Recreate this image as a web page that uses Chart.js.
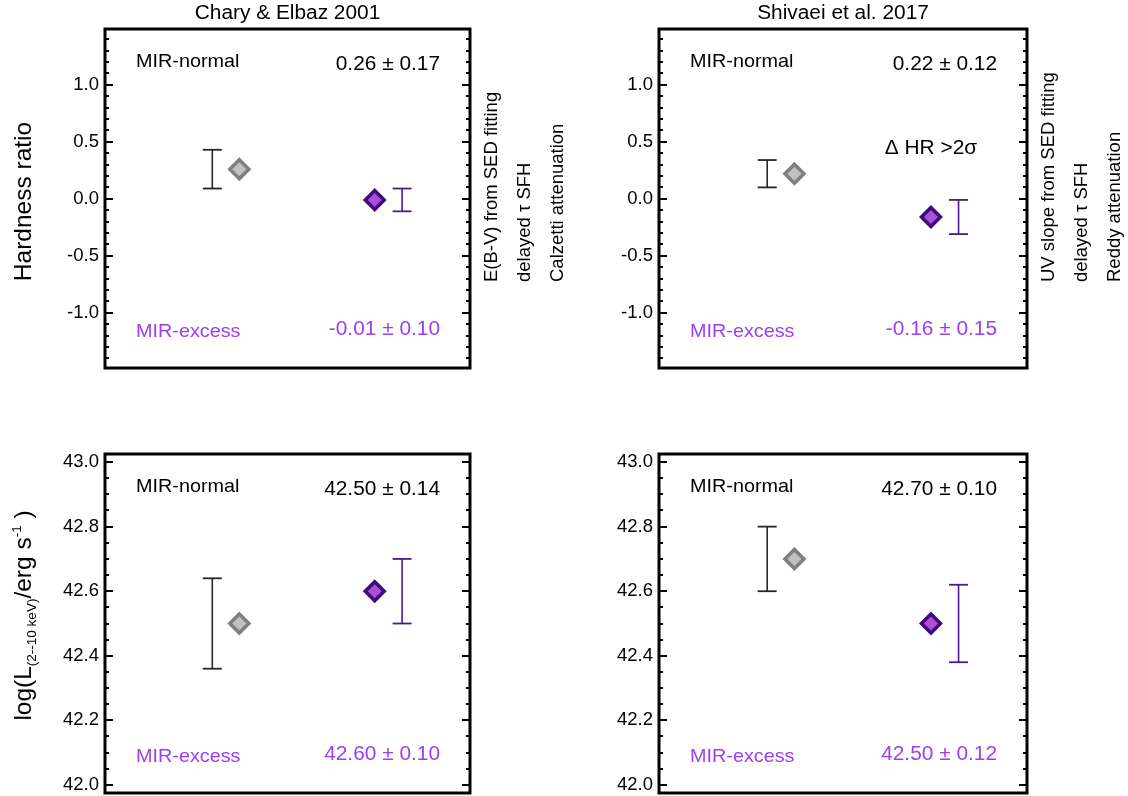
<!DOCTYPE html>
<html>
<head>
<meta charset="utf-8">
<script src="https://cdn.jsdelivr.net/npm/chart.js@4.4.1/dist/chart.umd.min.js"></script>
<style>
body { margin: 0; background: #fff; overflow: hidden; }
#wrap { position: relative; width: 1128px; height: 796px; overflow: hidden; }
#wrap canvas { position: absolute; }
</style>
</head>
<body>
<div id="wrap">
<canvas id="hr1" width="564" height="400" style="left:0;top:0"></canvas>
<canvas id="hr2" width="564" height="400" style="left:564px;top:0"></canvas>
<canvas id="lx1" width="564" height="406" style="left:0;top:400px"></canvas>
<canvas id="lx2" width="564" height="406" style="left:564px;top:400px"></canvas>
</div>
<script>
// values
const studies = ['Chary & Elbaz 2001', 'Shivaei et al. 2017'];
const sedNotes = [
    ['E(B-V) from SED fitting', 'delayed τ SFH', 'Calzetti attenuation'],
    ['UV slope from SED fitting', 'delayed τ SFH', 'Reddy attenuation'],
];
const groups = ['MIR-normal', 'MIR-excess'];
const sigmaNote = ['', 'Δ HR >2σ'];
const hrTitle = 'Hardness ratio';
const lxTitle = ['log(L', '(2--10 keV)', '/erg s', '-1', ' )'];

const markX = [0.368, 0.739];   // diamonds: normal, excess
const barX = [0.294, 0.814];    // error bars: normal, excess

const hrNormal = [0.26, 0.22];
const hrNormalErr = [0.17, 0.12];
const hrExcess = [-0.01, -0.16];
const hrExcessErr = [0.10, 0.15];

const lxNormal = [42.50, 42.70];
const lxNormalErr = [0.14, 0.10];
const lxExcess = [42.60, 42.50];
const lxExcessErr = [0.10, 0.12];

const hrTicks = [-1.0, -0.5, 0.0, 0.5, 1.0];
const lxTicks = [42.0, 42.2, 42.4, 42.6, 42.8, 43.0];

const FONT = '"Liberation Sans", Arial, Helvetica, sans-serif';
const SX = 1.07; // picture is stretched a little sideways, text too
const normalBar = '#262626';
const excessBar = '#4b1a8c';
const excessText = '#9b3ff0';

Chart.defaults.font.family = FONT;
Chart.defaults.color = '#000';

const panelInfo = {};

function putText(ctx, s, x, y, size, color, align) {
    ctx.save();
    ctx.font = size + 'px ' + FONT;
    ctx.fillStyle = color;
    ctx.textAlign = align;
    ctx.textBaseline = 'middle';
    ctx.translate(x, y);
    ctx.scale(SX, 1);
    ctx.fillText(s, 0, 0);
    ctx.restore();
}

function drawLxTitle(ctx, x, cy) {
    const sizes = [24.5, 13.5, 24.5, 13.5, 24.5];
    const shift = [0, 5, 0, -10, 0];
    ctx.save();
    ctx.translate(x, cy);
    ctx.rotate(-Math.PI / 2);
    ctx.fillStyle = '#000';
    ctx.textBaseline = 'alphabetic';
    ctx.textAlign = 'left';
    let total = 0;
    const widths = lxTitle.map((t, i) => {
        ctx.font = sizes[i] + 'px ' + FONT;
        const w = ctx.measureText(t).width;
        total += w;
        return w;
    });
    let cx = -total / 2;
    lxTitle.forEach((t, i) => {
        ctx.font = sizes[i] + 'px ' + FONT;
        ctx.fillText(t, cx, shift[i]);
        cx += widths[i];
    });
    ctx.restore();
}

const decor = {
    id: 'decor',
    afterDraw(chart) {
        const p = panelInfo[chart.canvas.id];
        const ctx = chart.ctx;
        const a = chart.chartArea;
        const y = chart.scales.y;
        const x = chart.scales.x;
        ctx.save();

        // inward ticks on both sides
        ctx.strokeStyle = '#000';
        ctx.lineWidth = 2;
        const k0 = Math.ceil(y.min / p.minor - 1e-6);
        const k1 = Math.floor(y.max / p.minor + 1e-6);
        for (let k = k0; k <= k1; k++) {
            const v = k * p.minor;
            const major = p.ticks.some(t => Math.abs(t - v) < 1e-6);
            const len = major ? 8 : 4;
            const py = Math.round(y.getPixelForValue(v));
            ctx.beginPath();
            ctx.moveTo(a.left, py);
            ctx.lineTo(a.left + len, py);
            ctx.moveTo(a.right, py);
            ctx.lineTo(a.right - len, py);
            ctx.stroke();
        }

        // frame
        ctx.lineWidth = 3;
        ctx.strokeRect(a.left, a.top, a.right - a.left, a.bottom - a.top);

        // labels inside the panel
        putText(ctx, groups[0], a.left + 31, a.top + 33, 18.5, '#000', 'left');
        putText(ctx, p.values[0], a.right - 30, a.top + 36, 19.5, '#000', 'right');
        putText(ctx, groups[1], a.left + 31, a.bottom - 36, 18.5, excessText, 'left');
        putText(ctx, p.values[1], a.right - 30, a.bottom - 38, 19.5, excessText, 'right');
        if (p.flag) {
            putText(ctx, p.flag, x.getPixelForValue(markX[1]), y.getPixelForValue(0.44), 19.5, '#000', 'center');
        }

        if (p.title) {
            putText(ctx, p.title, (a.left + a.right) / 2, 14, 19.5, '#000', 'center');
        }

        // method notes on the right, rotated
        if (p.notes) {
            const off = [21.5, 54.5, 88];
            ctx.fillStyle = '#000';
            ctx.font = '18.5px ' + FONT;
            ctx.textAlign = 'left';
            ctx.textBaseline = 'middle';
            p.notes.forEach((s, i) => {
                ctx.save();
                ctx.translate(a.right + off[i], a.top + 253);
                ctx.rotate(-Math.PI / 2);
                ctx.fillText(s, 0, 0);
                ctx.restore();
            });
        }

        // y title
        if (p.yTitle === 'hr') {
            ctx.save();
            ctx.translate(31, (a.top + a.bottom) / 2 + 3);
            ctx.rotate(-Math.PI / 2);
            ctx.fillStyle = '#000';
            ctx.font = '24.5px ' + FONT;
            ctx.textAlign = 'center';
            ctx.textBaseline = 'alphabetic';
            ctx.fillText(hrTitle, 0, 0);
            ctx.restore();
        } else if (p.yTitle === 'lx') {
            drawLxTitle(ctx, 31, (a.top + a.bottom) / 2 - 8);
        }
        ctx.restore();
    }
};

function errBar(x, v, e, color) {
    return {
        data: [{x: x, y: v - e}, {x: x, y: v + e}],
        showLine: true,
        borderColor: color,
        borderWidth: 1.6,
        pointStyle: 'line',
        pointRadius: 9.5,
        pointBorderColor: color,
        pointBorderWidth: 1.8,
    };
}

function diamond(x, v, fill, edge) {
    return {
        data: [{x: x, y: v}],
        pointStyle: 'rectRot',
        pointRadius: 9.5,
        pointBackgroundColor: fill,
        pointBorderColor: edge,
        pointBorderWidth: 3.5,
    };
}

function fmt(v, e) {
    return v.toFixed(2) + ' ± ' + e.toFixed(2);
}

function makePanel(canvasId, col, kind) {
    const hr = kind === 'hr';
    const norm = hr ? hrNormal[col] : lxNormal[col];
    const normErr = hr ? hrNormalErr[col] : lxNormalErr[col];
    const exc = hr ? hrExcess[col] : lxExcess[col];
    const excErr = hr ? hrExcessErr[col] : lxExcessErr[col];
    const yTicks = hr ? hrTicks : lxTicks;
    const yWidth = col === 0 ? 105 : 95;

    panelInfo[canvasId] = {
        ticks: yTicks,
        minor: hr ? 0.1 : 0.05,
        title: hr ? studies[col] : null,
        notes: hr ? sedNotes[col] : null,
        values: [fmt(norm, normErr), fmt(exc, excErr)],
        yTitle: col === 0 ? kind : null,
        flag: hr ? sigmaNote[col] : '',
    };

    return new Chart(document.getElementById(canvasId), {
        type: 'scatter',
        data: {
            datasets: [
                errBar(barX[0], norm, normErr, normalBar),
                diamond(markX[0], norm, '#c0c0c0', '#7f7f7f'),
                diamond(markX[1], exc, '#ac50d2', '#3f0a80'),
                errBar(barX[1], exc, excErr, excessBar),
            ],
        },
        options: {
            responsive: false,
            animation: false,
            devicePixelRatio: 1,
            layout: {
                padding: {
                    left: 0,
                    right: col === 0 ? 94 : 101,
                    top: hr ? 29 : 54,
                    bottom: hr ? 32 : 3,
                },
            },
            plugins: {
                legend: { display: false },
                tooltip: { enabled: false },
                title: { display: false },
            },
            scales: {
                x: { type: 'linear', min: 0, max: 1, display: false },
                y: {
                    type: 'linear',
                    min: hr ? -1.485 : 41.975,
                    max: hr ? 1.49 : 43.025,
                    afterBuildTicks: s => {
                        s.ticks = yTicks.map(v => ({ value: v }));
                    },
                    afterFit: s => {
                        s.width = yWidth;
                        s.paddingTop = 0;
                        s.paddingBottom = 0;
                    },
                    grid: { display: false, drawTicks: false },
                    border: { display: false },
                    ticks: {
                        padding: 6,
                        color: '#000',
                        font: { size: 18.5 },
                        callback: v => v.toFixed(1),
                    },
                },
            },
        },
        plugins: [decor],
    });
}

makePanel('hr1', 0, 'hr');
makePanel('hr2', 1, 'hr');
makePanel('lx1', 0, 'lx');
makePanel('lx2', 1, 'lx');
</script>
</body>
</html>
